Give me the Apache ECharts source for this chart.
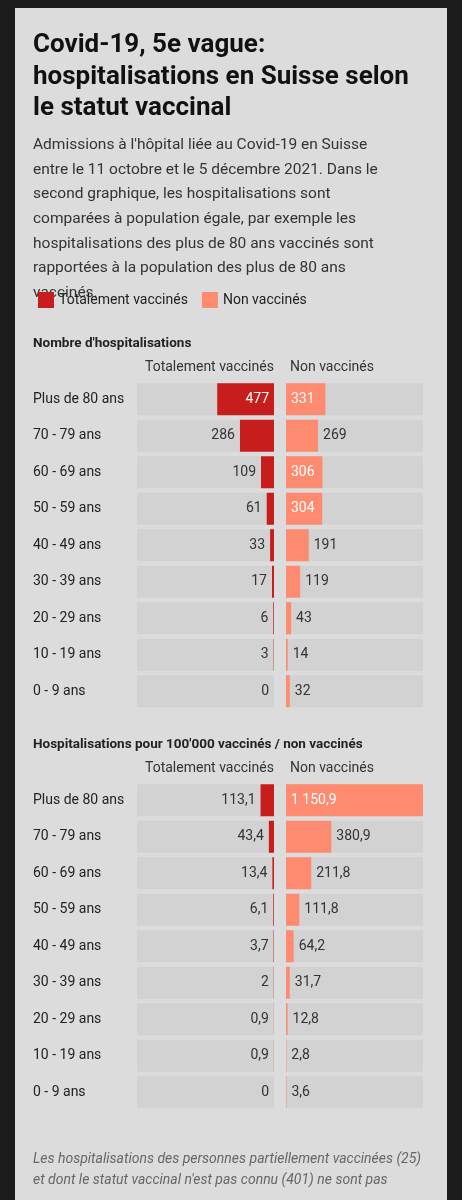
<!DOCTYPE html>
<html><head><meta charset="utf-8">
<script src="https://cdn.jsdelivr.net/npm/echarts@6/dist/echarts.min.js"></script>
<style>html,body{margin:0;padding:0;background:#1b1b1b;}#c{width:462px;height:1200px;}</style>
</head><body><div id="c"></div>
<script>
// catégories et valeurs
var ages = ['Plus de 80 ans','70 - 79 ans','60 - 69 ans','50 - 59 ans','40 - 49 ans','30 - 39 ans','20 - 29 ans','10 - 19 ans','0 - 9 ans'];
var hospVacc = [477,286,109,61,33,17,6,3,0];
var hospNon = [331,269,306,304,191,119,43,14,32];
var tauxVacc = [113.1,43.4,13.4,6.1,3.7,2,0.9,0.9,0];
var tauxNon = [1150.9,380.9,211.8,111.8,64.2,31.7,12.8,2.8,3.6];
var maxVal = 1150.9;

var RED = '#c81d1d', SALMON = '#fe8a6f', TRACK = '#d2d2d2', F = 'Roboto';

function fr(v){
    var s = String(v).split('.');
    var ent = s[0].replace(/\B(?=(\d{3})+(?!\d))/g,' ');
    return s.length>1 ? ent+','+s[1] : ent;
}
function items(vals, side, limit){
    return vals.map(function(v){
        var inside = v>=limit;
        return {value:v, label:{show:true, formatter:fr(v), fontFamily:F, fontSize:14,
            color: inside?'#fff':'#333',
            position: inside ? (side=='l'?'insideRight':'insideLeft') : (side=='l'?'left':'right'),
            distance: 5}};
    });
}

var tops = [381, 782];
var grids = [], xAxes = [], yAxes = [], series = [];
[[hospVacc,hospNon,300],[tauxVacc,tauxNon,1000]].forEach(function(d,k){
    [['l',137,d[0],RED],['r',286,d[1],SALMON]].forEach(function(s){
        var i = grids.length;
        grids.push({left:s[1], top:tops[k], width:137, height:9*36.5});
        xAxes.push({gridIndex:i, type:'value', min:0, max:maxVal, inverse:s[0]=='l', show:false});
        yAxes.push({gridIndex:i, type:'category', data:ages, inverse:true,
            axisLine:{show:false}, axisTick:{show:false}, splitLine:{show:false},
            axisLabel:{show:s[0]=='l', align:'left', margin:104, fontFamily:F, fontSize:14, color:'#222'}});
        series.push({type:'bar', xAxisIndex:i, yAxisIndex:i, barWidth:32, silent:true,
            data:ages.map(function(){return maxVal;}), itemStyle:{color:TRACK}, z:1});
        series.push({type:'bar', xAxisIndex:i, yAxisIndex:i, barWidth:32, barGap:'-100%',
            name: s[0]=='l'?'Totalement vaccinés':'Non vaccinés',
            data:items(s[2], s[0], d[2]), itemStyle:{color:s[3]}, z:2});
    });
});

function txt(x,y,t,o){
    return {type:'text', left:x, top:y, style:Object.assign({text:t, fontFamily:F, fontSize:14, fill:'#222'}, o||{})};
}
var graphic = [
    {type:'rect', shape:{x:15,y:8,width:432,height:1192}, style:{fill:'#dcdcdc'}, z:-10},
    txt(33,30,'Covid-19, 5e vague:\nhospitalisations en Suisse selon\nle statut vaccinal',{fontSize:26,fontWeight:'bold',lineHeight:31.5,fill:'#111'}),
    txt(33,133,"Admissions à l'hôpital liée au Covid-19 en Suisse\nentre le 11 octobre et le 5 décembre 2021. Dans le\nsecond graphique, les hospitalisations sont\ncomparées à population égale, par exemple les\nhospitalisations des plus de 80 ans vaccinés sont\nrapportées à la population des plus de 80 ans\nvaccinés.",{fontSize:15.5,lineHeight:24.6,fill:'#333'}),
    txt(33,337,"Nombre d'hospitalisations",{fontWeight:'bold',fontSize:13.5}),
    txt(145,360,'Totalement vaccinés',{fontSize:14,fill:'#333'}),
    txt(290,360,'Non vaccinés',{fontSize:14,fill:'#333'}),
    txt(33,738,"Hospitalisations pour 100'000 vaccinés / non vaccinés",{fontWeight:'bold',fontSize:13.5}),
    txt(145,761,'Totalement vaccinés',{fontSize:14,fill:'#333'}),
    txt(290,761,'Non vaccinés',{fontSize:14,fill:'#333'}),
    txt(33,1149,"Les hospitalisations des personnes partiellement vaccinées (25)\net dont le statut vaccinal n'est pas connu (401) ne sont pas",{fontStyle:'italic',fontSize:14,lineHeight:21,fill:'#666'})
];

var chart = echarts.init(document.getElementById('c'));
chart.setOption({
    animation:false,
    color:[RED,SALMON],
    legend:{left:33, top:287, itemWidth:16, itemHeight:16, itemGap:14, icon:'rect',
        data:['Totalement vaccinés','Non vaccinés'], selectedMode:false,
        textStyle:{fontFamily:F, fontSize:14, color:'#222'}},
    grid:grids, xAxis:xAxes, yAxis:yAxes, series:series, graphic:graphic
});
</script></body></html>
